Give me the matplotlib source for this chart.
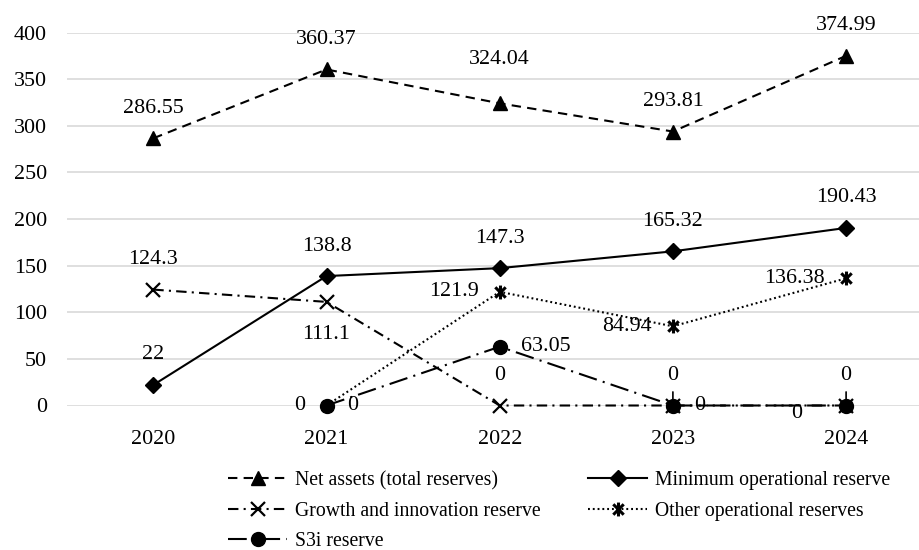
import numpy as np
import matplotlib
matplotlib.use("Agg")
import matplotlib.pyplot as plt
from matplotlib.path import Path

plt.rcParams["font.family"] = ["Liberation Serif", "DejaVu Serif"]

years = ["2020", "2021", "2022", "2023", "2024"]
net_assets = [286.55, 360.37, 324.04, 293.81, 374.99]
minimum_reserve = [22, 138.8, 147.3, 165.32, 190.43]
growth_reserve = [124.3, 111.1, 0, 0, 0]
other_reserves = [np.nan, 0, 121.9, 84.94, 136.38]
s3i_reserve = [np.nan, 0, 63.05, 0, 0]
y_ticks = [0, 50, 100, 150, 200, 250, 300, 350, 400]

PX = 0.72  # points per pixel at dpi 100
FS = 15.8
LEG_FS = 14.2

fig = plt.figure(figsize=(9.19, 5.5), dpi=100)
W, H = 919, 550
left, right, top, bottom = 66.7, 932.7, 32.5, 405.5
ax = fig.add_axes([left / W, 1 - bottom / H, (right - left) / W, (bottom - top) / H])

x = np.arange(len(years))

# asterisk-like marker: vertical bar plus an x
star_path = Path(
    [(0, -1), (0, 1), (-0.75, -0.75), (0.75, 0.75), (-0.75, 0.75), (0.75, -0.75)],
    [Path.MOVETO, Path.LINETO, Path.MOVETO, Path.LINETO, Path.MOVETO, Path.LINETO],
)

lw = 1.5
common = dict(color="black", lw=lw, clip_on=False)
h_net, = ax.plot(x, net_assets, ls=(0, (4.5, 3)), marker="^", ms=10, mfc="black",
                 mec="black", label="Net assets (total reserves)", zorder=3, **common)
h_min, = ax.plot(x, minimum_reserve, ls="-", marker="D", ms=8.5, mfc="black",
                 mec="black", label="Minimum operational reserve", zorder=3, **common)
h_gro, = ax.plot(x, growth_reserve, ls=(0, (5, 2.5, 1, 2.5)), marker="x", ms=10, mew=1.6,
                 mec="black", label="Growth and innovation reserve", zorder=4, **common)
h_oth, = ax.plot(x, other_reserves, ls=(0, (0.9, 1.4)), marker=star_path, ms=10, mew=2.2,
                 mfc="none", mec="black", label="Other operational reserves", zorder=4, **common)
h_s3i, = ax.plot(x, s3i_reserve, ls=(0, (9, 3, 1, 3)), marker="o", ms=10, mfc="black",
                 mec="black", label="S3i reserve", zorder=5, **common)

ax.set_xlim(-0.5, len(years) - 0.5)
ax.set_ylim(0, 400)
ax.set_yticks(y_ticks)
ax.set_xticks(x)
ax.set_xticklabels(years)
ax.grid(axis="y", color="#d9d9d9", lw=1.2)
ax.set_axisbelow(True)
for s in ax.spines.values():
    s.set_visible(False)
ax.tick_params(axis="both", length=0, labelsize=FS)
ax.tick_params(axis="y", pad=20 * PX)
ax.tick_params(axis="x", pad=25 * PX)


def label(series, i, pos, dx=0, dy=0, leader=False):
    v = series[i]
    txt = f"{v:g}"
    gap = 21
    if pos == "above":
        off, ha = (dx, 30 + dy), "center"
    elif pos == "below":
        off, ha = (dx, -33 + dy), "center"
    elif pos == "left":
        off, ha = (-gap + dx, dy), "right"
    else:
        off, ha = (gap + dx, dy), "left"
    kw = {}
    if leader:
        kw["arrowprops"] = dict(arrowstyle="-", color="black", lw=1.2, shrinkA=3, shrinkB=0)
    ax.annotate(txt, xy=(i, v), xytext=(off[0] * PX, off[1] * PX), textcoords="offset points",
                ha=ha, va="center", fontsize=FS, zorder=6, annotation_clip=False, **kw)


for i in range(5):
    label(net_assets, i, "above", dy=14 if i == 2 else 0)
    label(minimum_reserve, i, "above")

label(growth_reserve, 0, "above")
label(growth_reserve, 1, "below")
label(growth_reserve, 2, "above")
label(growth_reserve, 3, "above", leader=True)
label(growth_reserve, 4, "above", leader=True)

for i in range(1, 5):
    label(other_reserves, i, "left")

label(s3i_reserve, 1, "right")
label(s3i_reserve, 2, "right")
label(s3i_reserve, 3, "right")
label(s3i_reserve, 4, "left", dx=-23, dy=-8)

handles = [h_net, h_gro, h_s3i, h_min, h_oth]
fig.legend(handles=handles, labels=[h.get_label() for h in handles], ncol=2,
           loc="upper left", bbox_to_anchor=(228 / W, 1 - 471 / H), frameon=False,
           fontsize=LEG_FS, numpoints=1, handlelength=3.0, handletextpad=0.4,
           labelspacing=0.58, columnspacing=2.4, borderpad=0, borderaxespad=0)

fig.savefig("out.png", dpi=100)
